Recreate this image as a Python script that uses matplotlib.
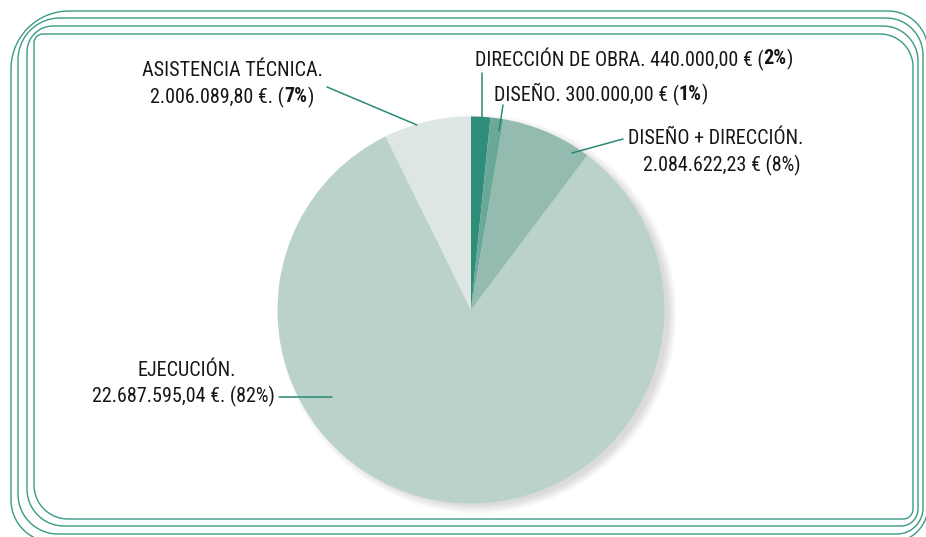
import numpy as np
import matplotlib
matplotlib.use("Agg")
import matplotlib.pyplot as plt
from matplotlib import font_manager
from matplotlib.path import Path
from matplotlib.patches import PathPatch, Circle

# Data
categories = ["DIRECCIÓN DE OBRA", "DISEÑO", "DISEÑO + DIRECCIÓN", "EJECUCIÓN", "ASISTENCIA TÉCNICA"]
amounts = [440000.00, 300000.00, 2084622.23, 22687595.04, 2006089.80]
amount_labels = ["440.000,00 €", "300.000,00 €", "2.084.622,23 €", "22.687.595,04 €.", "2.006.089,80 €."]
pct_labels = ["2%", "1%", "8%", "82%", "7%"]
colors = ["#2f8e7a", "#6aa899", "#94bbb0", "#bad2ca", "#dde6e3"]

teal = "#3a9a86"
txt_col = "#161616"

# pick a narrow font if there is one
names = {f.name for f in font_manager.fontManager.ttflist}
family = "DejaVu Sans"
for cand in ["Roboto Condensed", "Liberation Sans Narrow", "Open Sans Condensed"]:
    if cand in names:
        family = cand
        break
plt.rcParams['font.family'] = [family, 'DejaVu Sans']
fsize = 14.5 if family != "DejaVu Sans" else 11

W, H = 926, 537
fig = plt.figure(figsize=(W / 100, H / 100), dpi=100)
ax = fig.add_axes([0, 0, 1, 1])


def Y(y):
    # image row -> axis y (pixels, upward)
    return H - y


# frames: rounded rectangles with their own corner radii
def frame_path(l, t, r, b, rtl, rtr, rbr, rbl, n=30):
    pts = []

    def arc(cx, cy, rad, a0, a1):
        a = np.linspace(np.radians(a0), np.radians(a1), n)
        return list(zip(cx + rad * np.cos(a), cy + rad * np.sin(a)))
    # image coords, y down
    pts += arc(l + rtl, t + rtl, rtl, 180, 270)
    pts += arc(r - rtr, t + rtr, rtr, 270, 360)
    pts += arc(r - rbr, b - rbr, rbr, 0, 90)
    pts += arc(l + rbl, b - rbl, rbl, 90, 180)
    pts.append(pts[0])
    pts = [(x, Y(y)) for x, y in pts]
    return Path(pts)


frames = [
    (11, 11, 928, 542, 58, 40, 36, 42),
    (18, 18, 923, 534, 42, 37, 26, 40),
    (27, 26, 918, 526, 26, 35, 17, 37),
    (34, 34, 913, 519, 9, 33, 10, 34),
]
for f in frames:
    ax.add_patch(PathPatch(frame_path(*f), fill=False, edgecolor=teal, lw=1.0, zorder=0.2))

center = (471, Y(310))
radius = 193.5

# soft shadow on the right side
for k in range(9):
    ax.add_patch(Circle((center[0] + 6, center[1] - 4), radius + 6 - k,
                        facecolor="#000000", alpha=0.014, lw=0, zorder=0.5))

ax.pie(amounts, colors=colors, startangle=90, counterclock=False,
       center=center, radius=radius, wedgeprops=dict(linewidth=0, zorder=1))

ax.set_xlim(0, W)
ax.set_ylim(0, H)
ax.axis('off')

renderer = fig.canvas.get_renderer()


def rich_line(x, y, parts, ha='left'):
    texts = []
    for s, w in parts:
        t = ax.text(0, Y(y), s, fontsize=fsize, fontweight=w, color=txt_col,
                    va='center', ha='left', zorder=5)
        texts.append(t)
    widths = [t.get_window_extent(renderer).width for t in texts]
    total = sum(widths)
    if ha == 'center':
        start = x - total / 2
    elif ha == 'right':
        start = x - total
    else:
        start = x
    for t, w in zip(texts, widths):
        t.set_x(start)
        start += w


# labels
rich_line(475, 59, [(categories[0] + ". " + amount_labels[0] + " (", 'normal'),
                    (pct_labels[0], 'bold'), (")", 'normal')])
rich_line(494, 94, [(categories[1] + ". " + amount_labels[1] + " (", 'normal'),
                    (pct_labels[1], 'bold'), (")", 'normal')])
rich_line(716, 138, [(categories[2] + ".", 'normal')], ha='center')
rich_line(722, 165, [(amount_labels[2] + " (" + pct_labels[2] + ")", 'normal')], ha='center')
rich_line(187, 371, [(categories[3] + ".", 'normal')], ha='center')
rich_line(275, 396, [(amount_labels[3] + " (" + pct_labels[3] + ")", 'normal')], ha='right')
rich_line(232, 71, [(categories[4] + ".", 'normal')], ha='center')
rich_line(232, 97, [(amount_labels[4] + " (", 'normal'), (pct_labels[4], 'bold'),
                    (")", 'normal')], ha='center')

# leader lines
leaders = [((482, 118), (482, 73)),
           ((499, 131), (503, 105)),
           ((572, 153), (623, 139)),
           ((332, 397), (279, 397)),
           ((417, 125), (327, 87))]
for (x0, y0), (x1, y1) in leaders:
    ax.annotate("", xy=(x0, Y(y0)), xytext=(x1, Y(y1)),
                arrowprops=dict(arrowstyle='-', color="#2a8a76", lw=1.1,
                                shrinkA=0, shrinkB=0), zorder=4)

fig.savefig("out.png", dpi=100)
